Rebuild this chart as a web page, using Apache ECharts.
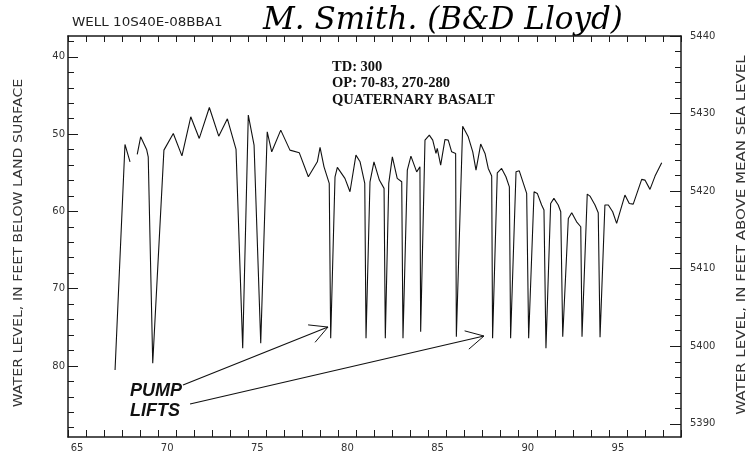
<!DOCTYPE html>
<html><head><meta charset="utf-8">
<script src="https://cdn.jsdelivr.net/npm/echarts@6/dist/echarts.min.js"></script>
<style>html,body{margin:0;padding:0;background:#fff}#c{width:752px;height:466px}</style>
</head><body><div id="c"></div>
<script>
// ---- data (fractional year 19xx, depth in feet below land surface) ----
const years = [67.61, 68.16, 68.44, 68.64, 68.84, 69.03, 69.36, 69.45, 69.70, 70.32,
  70.84, 71.32, 71.81, 72.28, 72.84, 73.36, 73.84, 74.32, 74.69, 75.00,
  75.32, 75.69, 76.05, 76.30, 76.80, 77.31, 77.83, 78.33, 78.83, 78.98,
  79.20, 79.49, 79.57, 79.81, 79.94, 80.36, 80.64, 80.97, 81.20, 81.46,
  81.53, 81.75, 81.97, 82.27, 82.53, 82.60, 82.79, 82.99, 83.26, 83.51,
  83.58, 83.82, 84.02, 84.34, 84.52, 84.56, 84.80, 85.04, 85.23, 85.41,
  85.48, 85.67, 85.91, 86.09, 86.28, 86.50, 86.54, 86.89, 87.20, 87.45,
  87.63, 87.89, 88.13, 88.31, 88.50, 88.55, 88.81, 89.05, 89.29, 89.48,
  89.55, 89.85, 90.03, 90.44, 90.55, 90.85, 91.03, 91.27, 91.40, 91.51,
  91.77, 91.95, 92.19, 92.33, 92.44, 92.51, 92.75, 92.94, 93.21, 93.44,
  93.51, 93.80, 93.95, 94.23, 94.41, 94.51, 94.78, 94.97, 95.21, 95.43,
  95.89, 96.13, 96.35, 96.82, 97.00, 97.28, 97.56, 97.93];
const depths = [80.53, 51.33, 53.58, null, 52.63, 50.35, 51.98, 52.94, 79.66, 52.07,
  49.91, 52.81, 47.76, 50.56, 46.55, 50.26, 48.02, 51.98, 77.72, 47.54,
  51.42, 77.08, 49.70, 52.29, 49.48, 52.07, 52.42, 55.52, 53.58, 51.72,
  54.23, 56.38, 76.43, 55.52, 54.31, 55.73, 57.46, 52.72, 53.58, 56.38,
  76.43, 56.17, 53.58, 55.95, 57.02, 76.43, 56.38, 52.94, 55.73, 56.17,
  76.43, 54.66, 52.85, 54.88, 54.23, 75.58, 50.78, 50.13, 50.78, 52.50,
  51.85, 54.01, 50.69, 50.78, 52.29, 52.50, 76.22, 48.97, 50.35, 52.29,
  54.66, 51.29, 52.50, 54.44, 55.43, 76.43, 55.01, 54.44, 55.52, 56.82,
  76.43, 54.88, 54.75, 57.67, 76.43, 57.46, 57.67, 59.18, 59.83, 77.72,
  58.97, 58.32, 59.18, 60.05, 76.22, 76.22, 60.91, 60.18, 61.35, 61.99,
  76.22, 57.76, 58.02, 59.18, 60.18, 76.30, 59.18, 59.18, 60.05, 61.55,
  57.89, 58.97, 59.06, 55.86, 55.95, 57.15, 55.43, 53.71];

const xLabelYears = [65, 70, 75, 80, 85, 90, 95];
const leftLabelValues = [40, 50, 60, 70, 80];
const rightLabelValues = [5390, 5400, 5410, 5420, 5430, 5440];
const wellTitle = 'WELL 10S40E-08BBA1';
const handNote = 'M. Smith. (B&D Lloyd)';
const infoLines = ['TD: 300', 'OP: 70-83, 270-280', 'QUATERNARY BASALT'];
const calloutLines = ['PUMP', 'LIFTS'];
const leftTitle = 'WATER LEVEL, IN FEET BELOW LAND SURFACE';
const rightTitle = 'WATER LEVEL, IN FEET ABOVE MEAN SEA LEVEL';
const arrowFrom = [[71.38, 82.47], [71.77, 84.93]];
const arrowTo = [[79.42, 74.97], [88.07, 76.13]];

const X_MIN = 65, X_MAX = 99, L_MIN = 37.3, L_MAX = 89.2, R_MIN = 5388.3, R_MAX = 5440;
const evenL = []; for (let v = 38; v <= 88; v += 2) evenL.push(v);
const evenR = []; for (let v = 5390; v <= 5440; v += 2) evenR.push(v);

const INK = '#1a1a1a';
const tickFont = { fontSize: 10, color: '#333', fontFamily: 'DejaVu Sans' };

const chart = echarts.init(document.getElementById('c'), null, { renderer: 'canvas' });
chart.setOption({
  animation: false,
  backgroundColor: '#fff',
  grid: { left: 68, right: 71, top: 36, bottom: 29 },
  xAxis: [
    { type: 'value', position: 'bottom', min: X_MIN, max: X_MAX, interval: 1,
      axisLine: { lineStyle: { color: INK, width: 1.5 } },
      axisTick: { inside: true, length: 7, lineStyle: { color: INK, width: 1 } },
      axisLabel: Object.assign({ customValues: xLabelYears.map(y => y + 0.5),
        formatter: v => String(Math.floor(v)), margin: 6 }, tickFont),
      splitLine: { show: false } },
    { type: 'value', position: 'top', min: X_MIN, max: X_MAX, interval: 1,
      axisLine: { lineStyle: { color: INK, width: 1.5 } },
      axisTick: { inside: true, length: 6, lineStyle: { color: INK, width: 1 } },
      axisLabel: { show: false }, splitLine: { show: false } }
  ],
  yAxis: [
    { type: 'value', position: 'left', inverse: true, min: L_MIN, max: L_MAX,
      axisLine: { show: true, lineStyle: { color: INK, width: 1.5 } },
      axisTick: { inside: true, length: 10, customValues: leftLabelValues, lineStyle: { color: INK, width: 1 } },
      axisLabel: Object.assign({ customValues: leftLabelValues, margin: 3, formatter: v => String(v) }, tickFont),
      splitLine: { show: false } },
    { type: 'value', position: 'left', inverse: true, min: L_MIN, max: L_MAX,
      axisLine: { show: false },
      axisTick: { inside: true, length: 6, customValues: evenL, lineStyle: { color: INK, width: 1 } },
      axisLabel: { show: false }, splitLine: { show: false } },
    { type: 'value', position: 'right', min: R_MIN, max: R_MAX,
      axisLine: { show: true, lineStyle: { color: INK, width: 1.5 } },
      axisTick: { inside: true, length: 11, customValues: rightLabelValues, lineStyle: { color: INK, width: 1 } },
      axisLabel: Object.assign({ customValues: rightLabelValues, margin: 9, formatter: v => String(v) }, tickFont),
      splitLine: { show: false } },
    { type: 'value', position: 'right', min: R_MIN, max: R_MAX,
      axisLine: { show: false },
      axisTick: { inside: true, length: 6, customValues: evenR, lineStyle: { color: INK, width: 1 } },
      axisLabel: { show: false }, splitLine: { show: false } }
  ],
  series: [{
    type: 'line', xAxisIndex: 0, yAxisIndex: 0, symbol: 'none', connectNulls: false,
    lineStyle: { color: '#111', width: 1.1 },
    data: years.map((x, i) => [x, depths[i] === null ? '-' : depths[i]])
  }]
});

// annotations
const g = [];
g.push({ type: 'text', x: 72, y: 23, scaleX: 1.17, style: { text: wellTitle, font: '11.5px "DejaVu Sans"', fill: '#222', verticalAlign: 'middle' } });
g.push({ type: 'text', x: 263, y: 21, style: { text: handNote, font: 'italic 31px "DejaVu Serif"', fill: '#000', verticalAlign: 'middle' } });
infoLines.forEach((t, i) => g.push({ type: 'text', x: 332, y: 67 + i * 16.5,
  style: { text: t, font: 'bold 14.5px "Liberation Serif"', fill: '#111', verticalAlign: 'middle' } }));
calloutLines.forEach((t, i) => g.push({ type: 'text', x: 130, y: 391 + i * 20,
  style: { text: t, font: 'italic bold 18px "Liberation Sans"', fill: '#111', verticalAlign: 'middle' } }));
g.push({ type: 'text', x: 19, y: 243, rotation: Math.PI / 2, scaleX: 1.18,
  style: { text: leftTitle, font: '12px "DejaVu Sans"', fill: '#333', align: 'center', verticalAlign: 'middle' } });
g.push({ type: 'text', x: 742, y: 235, rotation: Math.PI / 2, scaleX: 1.25,
  style: { text: rightTitle, font: '12px "DejaVu Sans"', fill: '#333', align: 'center', verticalAlign: 'middle' } });

arrowFrom.forEach((f, i) => {
  const p0 = chart.convertToPixel({ xAxisIndex: 0, yAxisIndex: 0 }, f);
  const p1 = chart.convertToPixel({ xAxisIndex: 0, yAxisIndex: 0 }, arrowTo[i]);
  const ang = Math.atan2(p0[1] - p1[1], p0[0] - p1[0]);
  const L = 20, a = 28 * Math.PI / 180;
  const b1 = [p1[0] + L * Math.cos(ang + a), p1[1] + L * Math.sin(ang + a)];
  const b2 = [p1[0] + L * Math.cos(ang - a), p1[1] + L * Math.sin(ang - a)];
  g.push({ type: 'polyline', shape: { points: [p0, p1] }, style: { stroke: '#111', lineWidth: 1.2, fill: null } });
  g.push({ type: 'polyline', shape: { points: [b1, p1, b2] }, style: { stroke: '#111', lineWidth: 1, fill: null } });
});
chart.setOption({ graphic: g });
</script>
</body></html>
